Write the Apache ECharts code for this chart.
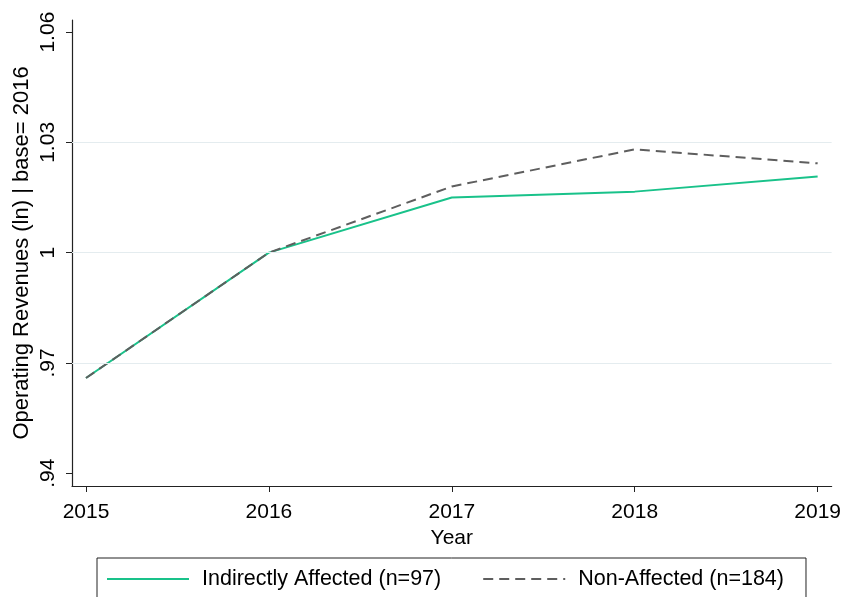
<!DOCTYPE html>
<html>
<head>
<meta charset="utf-8">
<script src="https://cdn.jsdelivr.net/npm/echarts@6/dist/echarts.min.js"></script>
<style>
  html, body { margin: 0; padding: 0; background: #fff; }
  #chart { width: 844px; height: 597px; }
</style>
</head>
<body>
<div id="chart"></div>
<script>
// data
const years = [2015, 2016, 2017, 2018, 2019];
const indirect = [0.9659, 1.0, 1.0150, 1.0166, 1.0207];
const nonAffected = [0.9659, 1.0, 1.0180, 1.0281, 1.0243];
const yTicks = [0.94, 0.97, 1.0, 1.03, 1.06];
const gridTicks = [0.97, 1.0, 1.03];

const font = "Liberation Sans";
const chart = echarts.init(document.getElementById("chart"));

function fmtY(v) {
  let s = String(Math.round(v * 100) / 100);
  return s.replace(/^0\./, ".");
}

chart.setOption({
  animation: false,
  textStyle: { fontFamily: font },
  grid: { left: 72, right: 12, top: 20, bottom: 111 },
  xAxis: {
    type: "value",
    min: 2014.9235,
    max: 2019.0765,
    name: "Year",
    nameLocation: "middle",
    nameGap: 37,
    nameTextStyle: { color: "#000", fontSize: 21, fontFamily: font },
    axisLine: { lineStyle: { color: "#222", width: 1.2 } },
    axisTick: { customValues: years, length: 6, lineStyle: { color: "#222" } },
    axisLabel: {
      customValues: years,
      color: "#000",
      fontSize: 21,
      margin: 16,
      formatter: v => String(v)
    },
    splitLine: { show: false }
  },
  yAxis: {
    type: "value",
    min: 0.9365,
    max: 1.0633,
    name: "Operating Revenues (ln) | base= 2016",
    nameLocation: "middle",
    nameGap: 39,
    nameMoveOverlap: false,
    nameTextStyle: { color: "#000", fontSize: 22, fontFamily: font },
    axisLine: { show: true, lineStyle: { color: "#222", width: 1.2 } },
    axisTick: { show: true, customValues: yTicks, length: 6, lineStyle: { color: "#222" } },
    axisLabel: {
      customValues: yTicks,
      color: "#000",
      fontSize: 21,
      rotate: 90,
      margin: 13,
      formatter: v => fmtY(v)
    },
    splitLine: { show: false }
  },
  legend: {
    left: 97,
    top: 558,
    padding: [10, 22, 40, 9],
    borderColor: "#222",
    borderWidth: 1,
    itemWidth: 82,
    itemHeight: 12,
    itemGap: 41,
    itemStyle: { opacity: 0 },
    textStyle: { color: "#000", fontSize: 21.5, fontFamily: font, padding: [0, 0, 0, 8] },
    data: ["Indirectly Affected (n=97)", "Non-Affected (n=184)"]
  },
  series: [
    {
      name: "Indirectly Affected (n=97)",
      type: "line",
      data: years.map((y, i) => [y, indirect[i]]),
      symbol: "none",
      z: 2,
      lineStyle: { color: "#19c28a", width: 2 },
      itemStyle: { color: "#19c28a" },
      markLine: {
        silent: true,
        symbol: "none",
        label: { show: false },
        lineStyle: { color: "#e4ecef", width: 1, type: "solid" },
        data: gridTicks.map(v => ({ yAxis: v }))
      }
    },
    {
      name: "Non-Affected (n=184)",
      type: "line",
      data: years.map((y, i) => [y, nonAffected[i]]),
      symbol: "none",
      z: 3,
      lineStyle: { color: "#5e5e5e", width: 2, type: [10, 6] },
      itemStyle: { color: "#5e5e5e" }
    }
  ]
});
</script>
</body>
</html>
